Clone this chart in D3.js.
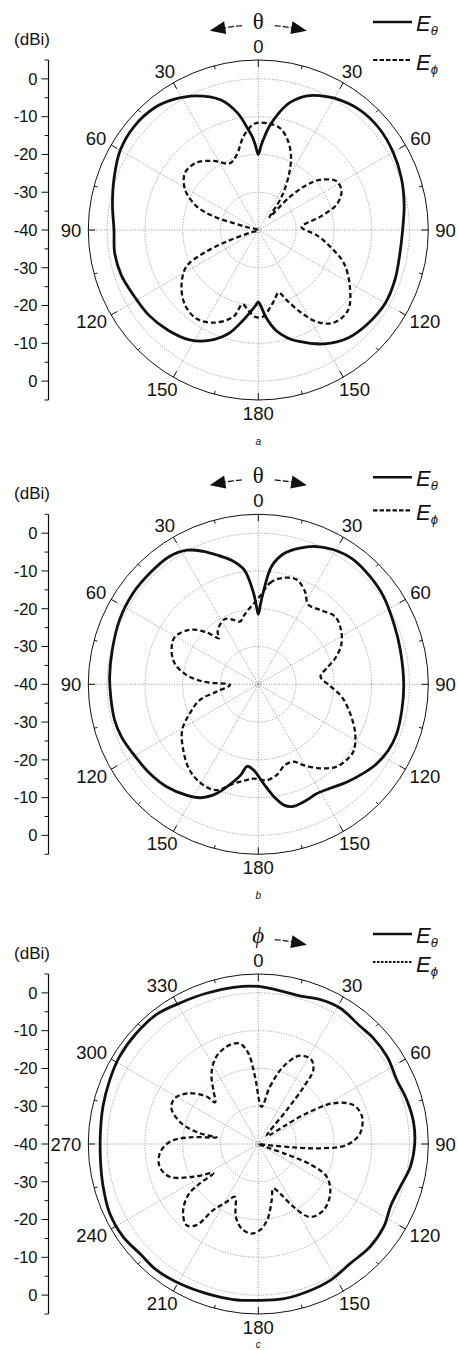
<!DOCTYPE html>
<html>
<head>
<meta charset="utf-8">
<script src="https://cdn.jsdelivr.net/npm/d3@7"></script>
<style>
  body { margin: 0; background: #fff; }
  svg { display: block; }
  text { font-family: "Liberation Sans", Arial, sans-serif; fill: #111; }
</style>
</head>
<body>
<svg id="chart" width="458" height="1350"></svg>
<script>
// ---- angle tick labels ----
const thetaTickLabels = [0, 30, 60, 90, 120, 150, 180, 150, 120, 90, 60, 30];
const phiTickLabels = [0, 30, 60, 90, 120, 150, 180, 210, 240, 270, 300, 330];
const gainTicks = [0, -10, -20, -30, -40];
const gridLevels = [-30, -20, -10, 0];

// ---- pattern (a): [angle deg clockwise from top, gain dBi] ----
const aEtheta = [
  [0, -20], [2, -17.5], [4, -15], [6, -12.5], [10, -8.5], [14, -5.2], [20, -2.2], [25, -0.8],
  [30, 0.3], [40, 1.6], [50, 1.8], [60, 1.2], [70, 0.3], [80, -0.8], [90, -1.8], [100, -2],
  [110, -1.5], [120, -1.2], [130, -1.8], [140, -2.8], [150, -5.2], [160, -8.6], [165, -10.5],
  [170, -13], [175, -16.8], [178, -19.8], [180, -21], [182, -20], [185, -18.5], [190, -15.5],
  [196, -11.5], [204, -8], [212, -5.7], [222, -4.3], [232, -3.3], [244, -2.6], [252, -1.8],
  [261, -1.5], [270, -1.8], [280, -0.8], [290, 0.6], [300, 2.2], [310, 2.8], [320, 2.4],
  [327, 1.2], [335, -0.8], [344, -4.2], [350, -8.6], [354, -13], [356.5, -15.5], [358, -17.5]
];
const aEphi = [
  [0, -11.6], [6, -11.7], [12, -12.4], [18, -14.9], [24, -18.7], [29.5, -23.8], [35, -29.2],
  [39, -34.5], [41, -35.5], [43.5, -28], [47, -22.5], [51, -18.9], [58, -15.6], [65, -15.7],
  [72, -18.2], [78, -23.3], [86, -28.5], [95, -24.5], [103, -20.5], [111, -15.8], [122, -11.4],
  [132, -8.1], [141, -8.4], [147.5, -11.2], [153, -15.7], [158, -20], [162, -22.6], [167, -21],
  [171, -19.4], [177, -17], [182, -17], [187, -18.5], [192, -19.9], [196, -16.1], [206, -12.7],
  [215, -11.4], [224, -12.2], [233.5, -14.7], [243, -18.6], [247, -24.2], [250, -31.1],
  [252, -38], [268, -40], [284, -37], [285.5, -33], [287, -27.6], [291, -22.5], [299, -17.8],
  [308, -15.4], [317.5, -15.8], [327, -18.2], [337, -20.8], [344, -19.3], [351, -14.9], [357, -12.1]
];

// ---- pattern (b) ----
const bEtheta = [
  [0, -21.5], [1.5, -19], [3, -15.8], [6.5, -8.5], [11, -4.8], [17, -2.3], [22, -0.6], [29, 0.8],
  [37, 1.5], [46, 1.1], [55, 0.5], [66, -0.7], [76, -1.3], [90, -1.5], [100, -1.4], [110, -1.1],
  [117, -1.4], [124, -2.3], [130, -3.5], [138, -5.1], [145, -6.5], [152, -7.2], [157, -6.8],
  [164, -6.4], [168, -7.3], [172, -9.9], [177, -13.7], [183, -17.2], [187.7, -18.1], [191, -15.5],
  [196, -12.3], [201, -9], [207, -6.3], [213, -5], [222, -3.6], [231, -2.8], [241, -2.1],
  [249, -1.2], [256, -0.8], [265, -0.8], [273, -0.6], [283, -0.3], [295, 0.5], [306, 1],
  [316, 1.1], [325, 1.2], [332, 0.2], [337.5, -1.9], [343, -4.4], [348, -6.5], [353, -9.5],
  [357, -15.8], [358.5, -19]
];
const bEphi = [
  [1, -16.7], [6.6, -13], [12.4, -11.2], [20, -10.5], [26.7, -12.5], [32, -15.1], [39.7, -14.4],
  [48.6, -12.9], [56.7, -13.8], [64.6, -15.7], [71.3, -18.5], [76.8, -21.4], [83, -23.4],
  [91.3, -21], [98.4, -17.7], [107.6, -14.5], [117, -11.2], [125, -9.2], [130, -9.2],
  [136.4, -9.9], [143.7, -12.4], [150.8, -15.5], [155.6, -17.5], [161.7, -17.5], [168.6, -15.5],
  [175, -14.5], [183, -15], [188, -14.3], [194.2, -12.9], [201.5, -9.9], [208.6, -9.6],
  [218.6, -10.9], [228.8, -13.6], [239, -16.5], [247, -20.3], [255, -24], [260, -28.8],
  [268.6, -32.5], [272.8, -25.4], [277.4, -20.8], [284, -17.2], [291.6, -15.3], [299.4, -14.6],
  [308.5, -16.8], [315, -20.5], [319.7, -24], [322, -22.5], [327, -21.3], [333, -20.6],
  [338, -21.5], [343.7, -22.7], [348, -21.5], [352.3, -20.1], [357, -18.5]
];

// ---- pattern (c) ----
const cEtheta = [
  [0, 1.7], [9, 0.9], [16, 0.7], [23, 1.6], [31, 2], [41, 1.2], [47, 1.4], [56, 1.2], [65, 0.4],
  [73.5, 1], [82, 1.5], [90, 1.4], [98.5, 0.7], [107, -0.8], [115, -1.3], [123.5, -0.2],
  [132.6, 0.2], [142.5, -0.1], [152, 0.8], [162, 1.2], [171, 1.5], [180, 1.4], [189, 1.7],
  [199, 1.9], [209, 2.4], [219, 2.9], [227, 2.7], [235.5, 3.4], [245, 3.4], [254.6, 2.6],
  [264, 2], [274, 1.9], [283.5, 2.3], [293, 2.8], [302, 3.4], [312, 3.6], [322, 3.6],
  [331, 2.7], [341, 2.2], [351, 2]
];
const cEphi = [
  [5, -30.1], [11.5, -24.5], [18, -18.4], [25, -14.2], [32, -13.6], [36.5, -15.5], [38.5, -20.7],
  [40, -28.3], [46, -37], [52, -36], [55.3, -31.9], [57.6, -24.8], [61.5, -17.4], [67.7, -12.8],
  [75, -11.6], [84, -12.9], [90.6, -16.6], [94, -23.6], [95.5, -30.7], [97, -38], [104, -40],
  [110, -32], [111.5, -25], [115.6, -19.9], [124.5, -16.9], [135.4, -15.4], [144.6, -16.3],
  [150.8, -21], [156.3, -25.7], [161.3, -27.6], [166.6, -24.7], [172.2, -20.5], [177.7, -17.6],
  [184.3, -16.2], [191.2, -17.2], [197.1, -19.8], [203.9, -24.7], [208.8, -22.5], [214.3, -18.8],
  [217.3, -13], [221.5, -11.3], [228, -13.2], [233.9, -17], [236, -21.3], [237, -25.8],
  [243.3, -20.7], [249.7, -15], [257, -13.2], [264.6, -13.8], [271.5, -16.6], [275.6, -21.8],
  [279, -28.8], [280.4, -24.3], [285.1, -18.9], [292.4, -15.1], [298.7, -14.8], [305.9, -17.1],
  [312.5, -21.4], [314, -24.1], [320.2, -21.4], [326.6, -17.5], [334.5, -14.3], [344, -12.7],
  [349.6, -13], [353.7, -15.8], [357.2, -22.1]
];

// ---- layout of the three stacked polar plots ----
const panels = [
  { cx: 258.3, cy: 230, etheta: aEtheta, ephi: aEphi, ticks: thetaTickLabels, symbol: "θ",
    symbolItalic: false, bothArrows: true, caption: "a", captionY: 445,
    legSolid: -208, legDash: -170, legDashStyle: "4.5,2" },
  { cx: 258.3, cy: 684.3, etheta: bEtheta, ephi: bEphi, ticks: thetaTickLabels, symbol: "θ",
    symbolItalic: false, bothArrows: true, caption: "b", captionY: 899,
    legSolid: -207, legDash: -174, legDashStyle: "4.5,2" },
  { cx: 258.3, cy: 1144, etheta: cEtheta, ephi: cEphi, ticks: phiTickLabels, symbol: "ϕ",
    symbolItalic: true, bothArrows: false, caption: "c", captionY: 1347.5,
    legSolid: -210, legDash: -182, legDashStyle: "2.5,1.5" }
];

const R = 170;
const r = d3.scaleLinear().domain([-40, 5]).range([0, R]);
const rad = d => d * Math.PI / 180;
const svg = d3.select("#chart");

const pattern = d3.lineRadial()
  .angle(d => rad(d[0]))
  .radius(d => r(d[1]))
  .curve(d3.curveCatmullRomClosed.alpha(0.5));

function polarPt(cx, cy, radius, deg) {
  return [cx + radius * Math.sin(rad(deg)), cy - radius * Math.cos(rad(deg))];
}

panels.forEach(p => {
  const g = svg.append("g");
  const plot = g.append("g").attr("transform", `translate(${p.cx},${p.cy})`);

  // dotted grid rings and spokes
  plot.selectAll("circle.grid").data(gridLevels).join("circle")
    .attr("r", d => r(d)).attr("fill", "none")
    .attr("stroke", "#777").attr("stroke-width", 0.8).attr("stroke-dasharray", "1,1.6");
  plot.append("circle").attr("r", 2.4).attr("fill", "none")
    .attr("stroke", "#777").attr("stroke-width", 0.7).attr("stroke-dasharray", "1,1");
  plot.selectAll("line.spoke").data(d3.range(0, 360, 30)).join("line")
    .attr("x1", 0).attr("y1", 0)
    .attr("x2", d => R * Math.sin(rad(d))).attr("y2", d => -R * Math.cos(rad(d)))
    .attr("stroke", "#777").attr("stroke-width", 0.8).attr("stroke-dasharray", "1,1.6");

  // outer frame with inward ticks
  plot.append("circle").attr("r", R).attr("fill", "none").attr("stroke", "#111").attr("stroke-width", 1);
  plot.selectAll("line.tick").data(d3.range(0, 360, 15)).join("line")
    .attr("x1", d => R * Math.sin(rad(d))).attr("y1", d => -R * Math.cos(rad(d)))
    .attr("x2", d => (R - (d % 30 === 0 ? 7 : 3.5)) * Math.sin(rad(d)))
    .attr("y2", d => -(R - (d % 30 === 0 ? 7 : 3.5)) * Math.cos(rad(d)))
    .attr("stroke", "#111").attr("stroke-width", 1);

  // angle labels outside the frame
  p.ticks.forEach((lab, i) => {
    const a = i * 30;
    const t = plot.append("text").text(lab).attr("font-size", 18.5).attr("text-anchor", "middle");
    const w = t.node().getComputedTextLength();
    const h = 13.2;
    const s = Math.sin(rad(a)), c = Math.cos(rad(a));
    const R0 = 177;
    const x = R0 * s + s * w / 2;
    const y = -R0 * c - c * h / 2;
    t.attr("x", x).attr("y", y + h / 2);
  });

  // patterns
  plot.append("path").datum(p.ephi).attr("d", pattern)
    .attr("fill", "none").attr("stroke", "#111").attr("stroke-width", 2.3)
    .attr("stroke-dasharray", "5,3");
  plot.append("path").datum(p.etheta).attr("d", pattern)
    .attr("fill", "none").attr("stroke", "#111").attr("stroke-width", 2.8);

  // gain axis on the left
  const ax = 48.5;
  const yTop = p.cy - R, yBot = p.cy + R;
  g.append("line").attr("x1", ax).attr("x2", ax).attr("y1", yTop).attr("y2", yBot)
    .attr("stroke", "#111").attr("stroke-width", 1.2);
  const minorOffsets = [5, 15, 25, 35, 45];
  [-1, 1].forEach(sign => {
    minorOffsets.forEach(o => {
      const y = p.cy + sign * r(o - 40);
      g.append("line").attr("x1", ax - 4).attr("x2", ax).attr("y1", y).attr("y2", y)
        .attr("stroke", "#111").attr("stroke-width", 1);
    });
    gainTicks.forEach(v => {
      if (v === -40 && sign === 1) return;
      const y = p.cy + sign * r(v) * -1;
      g.append("line").attr("x1", ax - 7).attr("x2", ax).attr("y1", y).attr("y2", y)
        .attr("stroke", "#111").attr("stroke-width", 1);
      g.append("text").attr("x", 37.5).attr("y", y + 5.8).attr("text-anchor", "end")
        .attr("font-size", 16.5).text(v);
    });
  });
  g.append("text").attr("x", 32).attr("y", p.cy - 185).attr("text-anchor", "middle")
    .attr("font-size", 17).text("(dBi)");

  // rotation arrows around the symbol
  const arcR = 205;
  const arcPath = (a0, a1) => {
    const pts = d3.range(0, 11).map(k => polarPt(p.cx, p.cy, arcR, a0 + (a1 - a0) * k / 10));
    return d3.line()(pts);
  };
  const head = (aBase, aTip) => {
    const tip = polarPt(p.cx, p.cy, arcR, aTip);
    const b1 = polarPt(p.cx, p.cy, arcR + 6.5, aBase);
    const b2 = polarPt(p.cx, p.cy, arcR - 6.5, aBase);
    return `M${tip}L${b1}L${b2}Z`;
  };
  const arrow = side => {
    g.append("path").attr("d", arcPath(side * 4.6, side * 9.6))
      .attr("fill", "none").attr("stroke", "#111").attr("stroke-width", 1.2)
      .attr("stroke-dasharray", "6,2");
    g.append("path").attr("d", head(side * 9.3, side * 13.7)).attr("fill", "#111");
  };
  arrow(1);
  if (p.bothArrows) arrow(-1);
  g.append("text").attr("x", p.cx).attr("y", p.cy - 201.5).attr("text-anchor", "middle")
    .style("font-family", "'Liberation Serif', 'DejaVu Serif', serif")
    .style("font-style", p.symbolItalic ? "italic" : "normal")
    .attr("font-size", 23).text(p.symbol);

  // legend
  const lx0 = 373, lx1 = 412;
  const ys = p.cy + p.legSolid, yd = p.cy + p.legDash;
  g.append("line").attr("x1", lx0).attr("x2", lx1).attr("y1", ys).attr("y2", ys)
    .attr("stroke", "#111").attr("stroke-width", 2.6);
  g.append("line").attr("x1", lx0).attr("x2", lx1).attr("y1", yd).attr("y2", yd)
    .attr("stroke", "#111").attr("stroke-width", 2.2).attr("stroke-dasharray", p.legDashStyle);
  const legText = (y, sub) => {
    const t = g.append("text").attr("x", 416).attr("y", y + 8.5)
      .style("font-style", "italic").attr("font-size", 22);
    t.append("tspan").text("E");
    t.append("tspan").attr("font-size", 13).attr("dy", 4).text(sub);
  };
  legText(ys, "θ");
  legText(yd + 1, "ϕ");

  // caption
  g.append("text").attr("x", p.cx).attr("y", p.captionY).attr("text-anchor", "middle")
    .style("font-style", "italic").attr("font-size", 10).text(p.caption);
});
</script>
</body>
</html>
